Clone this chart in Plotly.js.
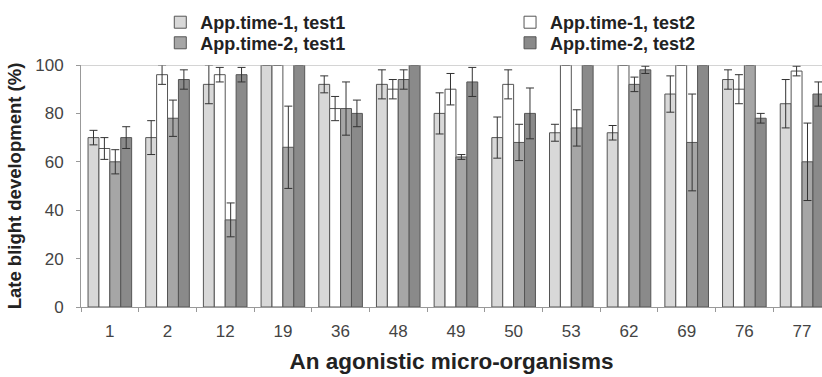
<!DOCTYPE html>
<html>
<head>
<meta charset="utf-8">
<script src="https://cdn.plot.ly/plotly-3.0.1.min.js"></script>
<style>html,body{margin:0;padding:0;background:#fff;}#chart{width:822px;height:377px;}</style>
</head>
<body>
<div id="chart"></div>
<script>
const categories = ['1','2','12','19','36','48','49','50','53','62','69','76','77'];

const time1Test1 = [70, 70, 92, 100, 92, 92, 80, 70, 72, 72, 88, 94, 84];
const time1Test1Err = [3, 7, 8, 0, 3.5, 6, 8.5, 8.5, 3.5, 3, 7.5, 4, 10];

const time1Test2 = [65.5, 96, 96, 100, 82, 90, 90, 92, 100, 100, 100, 90, 97.5];
const time1Test2Err = [4.5, 4, 3, 0, 5, 4, 6.5, 6, 0, 0, 0, 6, 2];

const time2Test1 = [60, 78, 36, 66, 82, 94, 62, 68, 74, 92, 68, 100, 60];
const time2Test1Err = [5, 7.5, 7, 17, 11, 4, 1, 7.5, 7.5, 3, 20, 0, 16];

const time2Test2 = [70, 94, 96, 100, 80, 100, 93, 80, 100, 98, 100, 78, 88];
const time2Test2Err = [4.5, 4, 3, 0, 5.5, 0, 6, 10.5, 0, 1.5, 0, 2, 5];

const seriesNames = ['App.time-1, test1', 'App.time-1, test2', 'App.time-2, test1', 'App.time-2, test2'];
const yTickVals = [0, 20, 40, 60, 80, 100];

const fills = ['#d8d8d8', '#ffffff', '#a6a6a6', '#8a8a8a'];
const values = [time1Test1, time1Test2, time2Test1, time2Test2];
const errs = [time1Test1Err, time1Test2Err, time2Test1Err, time2Test2Err];
const legendIds = ['legend', 'legend2', 'legend3', 'legend4'];

const traces = values.map((v, i) => ({
  type: 'bar',
  name: seriesNames[i],
  x: categories,
  y: v,
  legend: legendIds[i],
  marker: {color: fills[i], line: {color: '#555', width: 1}},
  error_y: {type: 'data', array: errs[i], visible: true, color: '#333', thickness: 1, width: 4},
  cliponaxis: true
}));

const boldFont = {family: 'Liberation Sans, Arial, sans-serif', size: 18.5, color: '#222', weight: 'bold'};
const legendFont = {family: 'Liberation Sans, Arial, sans-serif', size: 18, color: '#222', weight: 'bold'};
const tickFont = {family: 'Liberation Sans, Arial, sans-serif', size: 17, color: '#444'};

const legendBase = {
  xanchor: 'left', yanchor: 'top',
  orientation: 'v', font: legendFont, bgcolor: 'rgba(0,0,0,0)',
  itemwidth: 30
};

const layout = {
  width: 822,
  height: 377,
  margin: {l: 81, r: 0, t: 65, b: 70},
  paper_bgcolor: '#fff',
  plot_bgcolor: '#fff',
  barmode: 'group',
  bargap: 0.244,
  bargroupgap: 0,
  showlegend: true,
  xaxis: {
    type: 'category',
    range: [-0.5, 12.346],
    tickson: 'boundaries',
    ticks: 'outside',
    ticklen: 4,
    tickcolor: '#999',
    showline: true,
    linecolor: '#999',
    linewidth: 1,
    showgrid: false,
    zeroline: false,
    tickfont: tickFont,
    ticklabelstandoff: 9,
    title: {text: 'An agonistic micro-organisms', font: {family: 'Liberation Sans, Arial, sans-serif', size: 22.5, color: '#222', weight: 'bold'}, standoff: 12}
  },
  yaxis: {
    range: [0, 100],
    tickvals: yTickVals,
    ticks: 'outside',
    ticklen: 4,
    tickcolor: '#999',
    showline: true,
    linecolor: '#999',
    linewidth: 1,
    showgrid: false,
    zeroline: false,
    tickfont: tickFont,
    ticklabelstandoff: 9,
    title: {text: 'Late blight development (%)', font: boldFont, standoff: 8}
  },
  legend: Object.assign({}, legendBase, {x: 0.107, y: 1.252}),
  legend2: Object.assign({}, legendBase, {x: 0.579, y: 1.252}),
  legend3: Object.assign({}, legendBase, {x: 0.107, y: 1.167}),
  legend4: Object.assign({}, legendBase, {x: 0.579, y: 1.167}),
  shapes: [{type: 'line', xref: 'paper', yref: 'y', x0: 0, x1: 1, y0: 100, y1: 100, line: {color: '#aaa', width: 1}}]
};

Plotly.newPlot('chart', traces, layout, {displayModeBar: false, staticPlot: true});
</script>
</body>
</html>
